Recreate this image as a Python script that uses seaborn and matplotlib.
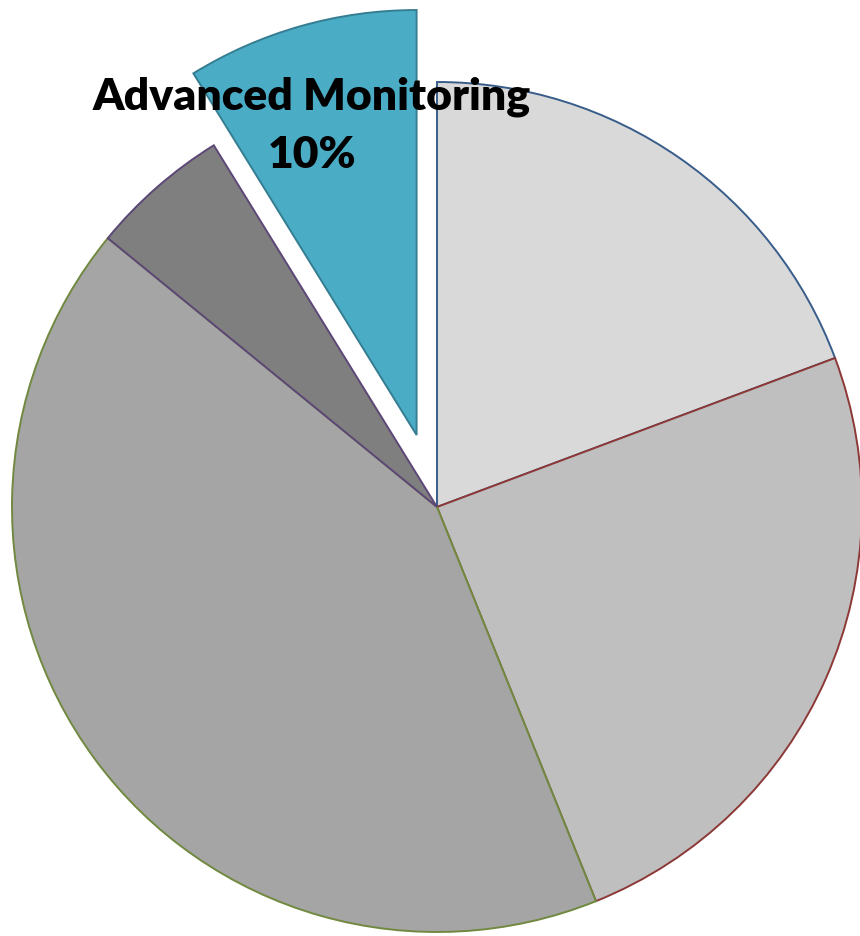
import matplotlib
matplotlib.use("Agg")
import matplotlib.pyplot as plt
import seaborn as sns

sns.set_theme(style="white")
plt.rcParams['font.family'] = ['Lato', 'DejaVu Sans']

categories = ["Category A", "Category B", "Category C", "Category D", "Advanced Monitoring"]
values = [19.3, 24.6, 42.0, 5.3, 8.8]
label_text = "10%"
fill_colors = ["#D9D9D9", "#BFBFBF", "#A5A5A5", "#7F7F7F", "#4BACC6"]
edge_colors = ["#385D8A", "#8C3836", "#71893F", "#5C4776", "#357D91"]
explode = [0, 0, 0, 0, 0.176]

W, H = 860, 936
fig = plt.figure(figsize=(W / 100, H / 100), dpi=100)
ax = fig.add_axes([0, 0, 1, 1])

cx, cy, r = 437, 507, 425
wedges, _ = ax.pie(values, colors=fill_colors, startangle=90, counterclock=False,
                   explode=explode, radius=1.0,
                   wedgeprops=dict(linewidth=1.4))
for w, ec in zip(wedges, edge_colors):
    w.set_edgecolor(ec)

ax.set_xlim(-cx / r, (W - cx) / r)
ax.set_ylim(-(H - cy) / r, cy / r)
ax.set_aspect('auto')
ax.axis('off')

fig.text(312 / W, 1 - 97 / H, categories[-1], ha='center', va='center',
         fontsize=32, fontweight='heavy', color='black')
fig.text(312 / W, 1 - 155 / H, label_text, ha='center', va='center',
         fontsize=32, fontweight='heavy', color='black')

fig.savefig("out.png", dpi=100, facecolor='white')
